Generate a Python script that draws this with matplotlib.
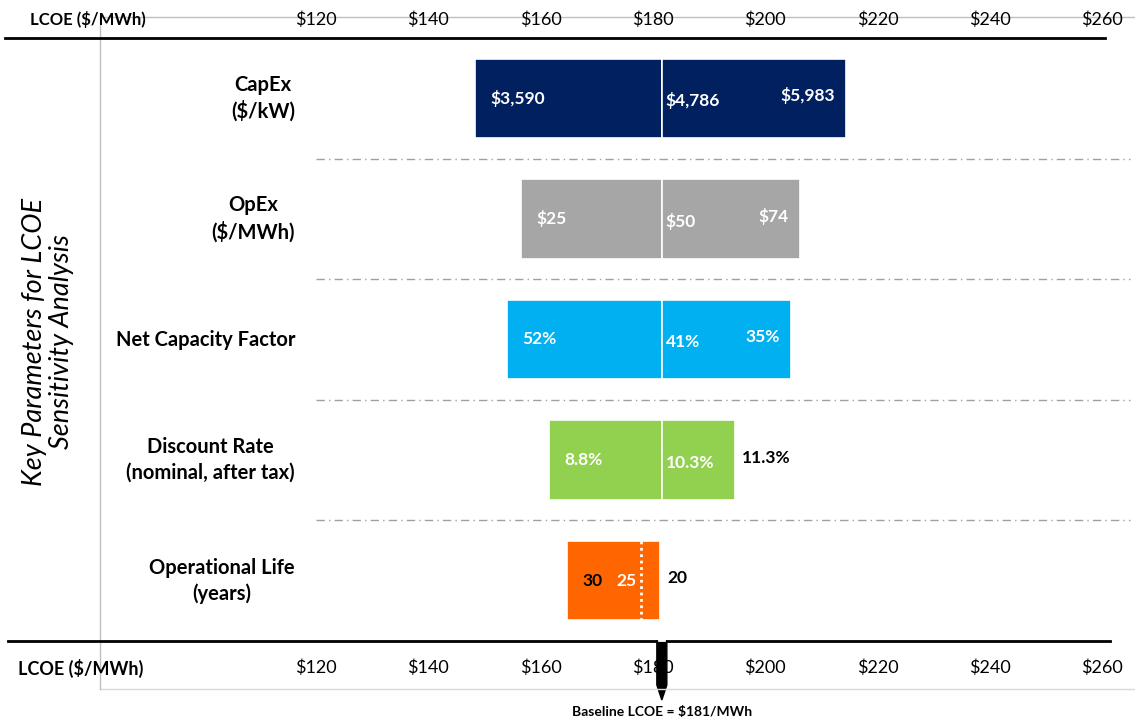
import matplotlib.pyplot as plt
import matplotlib.transforms as mtransforms
from matplotlib.lines import Line2D
from matplotlib.patches import Polygon

plt.rcParams['font.family'] = ['Lato', 'DejaVu Sans']

# data ($/MWh)
params = ['CapEx\n($/kW)', 'OpEx\n($/MWh)', 'Net Capacity Factor',
          'Discount Rate\n(nominal, after tax)', 'Operational Life\n(years)']
low_lcoe = [148.3, 156.5, 154.0, 161.5, 164.7]
high_lcoe = [214.4, 206.2, 204.6, 194.6, 181.3]
low_labels = ['$3,590', '$25', '52%', '8.8%', '30']
base_labels = ['$4,786', '$50', '41%', '10.3%', '25']
high_labels = ['$5,983', '$74', '35%', '11.3%', '20']
colors = ['#002060', '#A6A6A6', '#00B0F0', '#92D050', '#FF6600']
baseline = 181.6
oplife_25 = 177.9   # dotted marker inside the operational life bar
ticks = [120, 140, 160, 180, 200, 220, 240, 260]

W, H = 1135, 721
fig = plt.figure(figsize=(W / 100, H / 100), dpi=100)
ax = fig.add_axes([316 / W, 1 - 641 / H, (1102 - 316) / W, (641 - 38) / H])
ax.set_xlim(120, 260)
ax.set_ylim(4.5, -0.5)
ax.axis('off')

# labels on the left sit at a fixed figure x, row y
lab_tr = mtransforms.blended_transform_factory(fig.transFigure, ax.transData)

bh = 0.66
for i in range(len(params)):
    lo, hi = low_lcoe[i], high_lcoe[i]
    ax.barh(i, min(baseline, hi) - lo, left=lo, height=bh, color=colors[i],
            edgecolor='white', linewidth=1.2)
    if hi > baseline:
        ax.barh(i, hi - baseline, left=baseline, height=bh, color=colors[i],
                edgecolor='white', linewidth=1.2)

    ax.text(lo + 2.7, i, low_labels[i], ha='left', va='center', fontsize=12.5,
            fontweight='bold', color='black' if i == 4 else 'white')
    if i < 4:
        ax.text(baseline + 0.7, i + 0.02, base_labels[i], ha='left', va='center',
                fontsize=12.5, fontweight='bold', color='white')
    if i < 3:
        ax.text(hi - 2.0, i - 0.02, high_labels[i], ha='right', va='center',
                fontsize=12.5, fontweight='bold', color='white')
    else:
        ax.text(hi + 1.3, i - 0.02, high_labels[i], ha='left', va='center',
                fontsize=12.5, fontweight='bold', color='black')

    ax.text(295 / W, i, params[i], transform=lab_tr, ha='right', va='center',
            multialignment='center', fontsize=14.5, fontweight='bold',
            linespacing=1.35)

# operational life: 25-year marker
ax.plot([oplife_25, oplife_25], [4 - bh / 2, 4 + bh / 2], color='white', lw=2,
        linestyle=(0, (1, 1.3)))
ax.text(oplife_25 - 0.8, 4, base_labels[4], ha='right', va='center', fontsize=12.5,
        fontweight='bold', color='white')

# dash-dot separators
for y in [0.5, 1.5, 2.5, 3.5]:
    ax.plot([120, 265], [y, y], color='#A0A0A0', lw=1, linestyle=(0, (6, 3, 1, 3)),
            clip_on=False)

# frame lines
fig.add_artist(Line2D([100 / W, 1], [1 - 17 / H] * 2, color='#BFBFBF', lw=1))
fig.add_artist(Line2D([100 / W, 1], [1 - 689 / H] * 2, color='#D9D9D9', lw=1))
fig.add_artist(Line2D([100 / W] * 2, [1 - 17 / H, 1 - 689 / H], color='#BFBFBF', lw=1))
fig.add_artist(Line2D([5 / W, 1105 / W], [1 - 38 / H] * 2, color='black', lw=2))
fig.add_artist(Line2D([8 / W, 1110 / W], [1 - 641 / H] * 2, color='black', lw=2))

# tick labels top and bottom
for t in ticks:
    xf = (316 + (t - 120) * (1102 - 316) / 140) / W
    fig.text(xf, 1 - 20 / H, f'${t}', ha='center', va='center', fontsize=13)
    fig.text(xf, 1 - 668 / H, f'${t}', ha='center', va='center', fontsize=13)
fig.text(30 / W, 1 - 20 / H, 'LCOE ($/MWh)', ha='left', va='center', fontsize=12,
         fontweight='bold')
fig.text(18 / W, 1 - 668 / H, 'LCOE ($/MWh)', ha='left', va='center', fontsize=13,
         fontweight='bold')

# axis title
fig.text(48 / W, 1 - 342 / H, 'Key Parameters for LCOE\nSensitivity Analysis',
         rotation=90, ha='center', va='center', fontsize=19.5, style='italic',
         linespacing=1.1)

# baseline arrow
tr = mtransforms.blended_transform_factory(ax.transData, fig.transFigure)
hw = 5 / 5.614
arrow = Polygon([(baseline - hw, 1 - 641 / H), (baseline + hw, 1 - 641 / H),
                 (baseline + hw, 1 - 685 / H), (baseline, 1 - 700 / H),
                 (baseline - hw, 1 - 685 / H)], closed=True, color='black',
                transform=tr, clip_on=False)
fig.add_artist(arrow)
fig.add_artist(Line2D([baseline - 0.45, baseline + 0.45], [1 - 640 / H] * 2,
                      color='white', lw=2, transform=tr))
fig.text(662 / W, 1 - 712 / H, f'Baseline LCOE = ${int(baseline)}/MWh', ha='center',
         va='center', fontsize=10, fontweight='bold')

fig.savefig('out.png', dpi=100)
